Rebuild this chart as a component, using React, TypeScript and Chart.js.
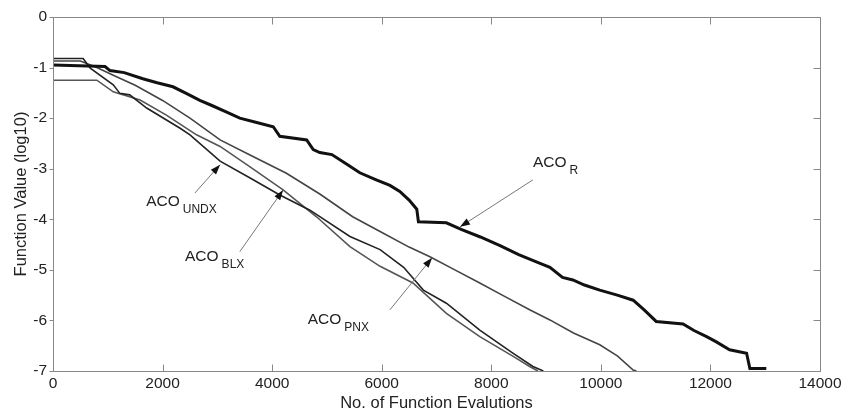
import { useEffect, useRef } from "react";
import { Chart, registerables } from "chart.js";

Chart.register(...registerables);

// ---- Data ----
const xTickValues = [0, 2000, 4000, 6000, 8000, 10000, 12000, 14000];
const xTickLabels = ["0", "2000", "4000", "6000", "8000", "10000", "12000", "14000"];
const yTickValues = [-7, -6, -5, -4, -3, -2, -1, 0];
const yTickLabels = ["-7", "-6", "-5", "-4", "-3", "-2", "-1", "0"];

const seriesNames = ["ACO_R", "ACO_UNDX", "ACO_BLX", "ACO_PNX"];

const acoRX = [0, 950, 1040, 1300, 1640, 1900, 2190, 2450, 2680, 2900, 3170, 3410, 3700, 4020, 4140, 4630, 4750, 4870, 5090, 5350, 5600, 5900, 6150, 6330, 6500, 6640, 6670, 7180, 7450, 7800, 8160, 8500, 8890, 9070, 9300, 9490, 9700, 9980, 10300, 10590, 10800, 11010, 11500, 11700, 11930, 12100, 12350, 12660, 12720, 13020];
const acoRY = [-0.95, -0.98, -1.06, -1.1, -1.22, -1.3, -1.38, -1.52, -1.65, -1.75, -1.88, -2.0, -2.08, -2.17, -2.36, -2.43, -2.62, -2.68, -2.72, -2.9, -3.08, -3.22, -3.33, -3.45, -3.62, -3.8, -4.05, -4.07, -4.2, -4.35, -4.52, -4.7, -4.87, -4.95, -5.15, -5.2, -5.3, -5.4, -5.5, -5.6, -5.8, -6.02, -6.07, -6.2, -6.32, -6.42, -6.58, -6.65, -6.95, -6.95];

const acoUndxX = [0, 550, 680, 1100, 1220, 1400, 1710, 2320, 2500, 3050, 3590, 4140, 4690, 5420, 5970, 6400, 6760, 7180, 7790, 8400, 8760, 8950];
const acoUndxY = [-0.82, -0.82, -1.01, -1.34, -1.51, -1.54, -1.8, -2.2, -2.33, -2.85, -3.18, -3.52, -3.82, -4.34, -4.6, -4.95, -5.4, -5.66, -6.19, -6.65, -6.91, -7.0];

const acoBlxX = [0, 800, 1100, 1590, 2070, 2620, 3050, 3590, 4200, 4810, 5420, 5970, 6570, 7180, 7790, 8400, 8700, 8850];
const acoBlxY = [-1.25, -1.25, -1.48, -1.64, -1.94, -2.33, -2.56, -2.96, -3.42, -3.95, -4.54, -4.93, -5.26, -5.86, -6.32, -6.71, -6.91, -7.0];

const acoPnxX = [0, 500, 800, 1100, 1500, 2000, 2500, 3050, 3650, 4260, 4870, 5470, 5970, 6500, 6880, 7300, 7790, 8200, 8700, 9070, 9500, 9980, 10300, 10590, 10650];
const acoPnxY = [-0.87, -0.87, -1.0, -1.15, -1.35, -1.65, -2.0, -2.43, -2.76, -3.09, -3.5, -3.95, -4.24, -4.55, -4.74, -4.98, -5.26, -5.5, -5.79, -5.99, -6.25, -6.48, -6.7, -6.98, -7.0];

// annotations (data coordinates)
const annotationMain = ["ACO", "ACO", "ACO", "ACO"];
const annotationSub = ["R", "UNDX", "BLX", "PNX"];
const annotationTextX = [8760, 1700, 2410, 4650];
const annotationTextY = [-2.885, -3.66, -4.74, -5.99];
const arrowFromX = [8760, 2590, 3410, 6150];
const arrowFromY = [-3.22, -3.48, -4.64, -5.79];
const arrowToX = [7430, 3050, 4200, 6920];
const arrowToY = [-4.15, -2.92, -3.42, -4.76];

const FONT_FAMILY = "'Liberation Sans', Arial, Helvetica, sans-serif";
const TEXT_COLOR = "#222";
const AXIS_COLOR = "#888";

const toPoints = (xs: number[], ys: number[]) => xs.map((x, i) => ({ x, y: ys[i] }));

const framePlugin = {
  id: "frameAndAnnotations",
  afterDraw(chart: any) {
    const { ctx, chartArea, scales } = chart;
    const { left, right, top, bottom } = chartArea;
    const xs = scales.x;
    const ys = scales.y;
    ctx.save();
    ctx.strokeStyle = AXIS_COLOR;
    ctx.lineWidth = 1;
    const L = Math.round(left) + 0.5;
    const R = Math.round(right) + 0.5;
    const T = Math.round(top) + 0.5;
    const B = Math.round(bottom) + 0.5;
    ctx.beginPath();
    ctx.rect(L, T, R - L, B - T);
    ctx.stroke();
    ctx.beginPath();
    xTickValues.forEach((v) => {
      const px = Math.round(xs.getPixelForValue(v)) + 0.5;
      ctx.moveTo(px, B);
      ctx.lineTo(px, B - 7);
      ctx.moveTo(px, T);
      ctx.lineTo(px, T + 7);
    });
    yTickValues.forEach((v) => {
      const py = Math.round(ys.getPixelForValue(v)) + 0.5;
      ctx.moveTo(L - 4, py);
      ctx.lineTo(L, py);
      ctx.moveTo(R, py);
      ctx.lineTo(R - 7, py);
    });
    ctx.stroke();

    // annotations
    for (let i = 0; i < annotationMain.length; i++) {
      const fx = xs.getPixelForValue(arrowFromX[i]);
      const fy = ys.getPixelForValue(arrowFromY[i]);
      const tx = xs.getPixelForValue(arrowToX[i]);
      const ty = ys.getPixelForValue(arrowToY[i]);
      ctx.strokeStyle = "#777";
      ctx.lineWidth = 1;
      ctx.beginPath();
      ctx.moveTo(fx, fy);
      ctx.lineTo(tx, ty);
      ctx.stroke();
      const ang = Math.atan2(ty - fy, tx - fx);
      const hl = 10;
      const hw = 3.5;
      ctx.fillStyle = "#111";
      ctx.beginPath();
      ctx.moveTo(tx, ty);
      ctx.lineTo(tx - hl * Math.cos(ang) + hw * Math.sin(ang), ty - hl * Math.sin(ang) - hw * Math.cos(ang));
      ctx.lineTo(tx - hl * Math.cos(ang) - hw * Math.sin(ang), ty - hl * Math.sin(ang) + hw * Math.cos(ang));
      ctx.closePath();
      ctx.fill();

      const lx = xs.getPixelForValue(annotationTextX[i]);
      const ly = ys.getPixelForValue(annotationTextY[i]);
      ctx.fillStyle = TEXT_COLOR;
      ctx.textBaseline = "middle";
      ctx.textAlign = "left";
      ctx.font = `15.5px ${FONT_FAMILY}`;
      ctx.fillText(annotationMain[i], lx, ly);
      const w = ctx.measureText(annotationMain[i]).width;
      ctx.font = `12px ${FONT_FAMILY}`;
      ctx.fillText(annotationSub[i], lx + w + 3, ly + 8);
    }
    ctx.restore();
  },
};

export default function App() {
  const ref = useRef<HTMLCanvasElement>(null);
  useEffect(() => {
    const tickFont = { family: FONT_FAMILY, size: 15.5 };
    const titleFont = { family: FONT_FAMILY, size: 16.5 };
    const chart = new Chart(ref.current as HTMLCanvasElement, {
      type: "line",
      data: {
        datasets: [
          {
            label: seriesNames[0],
            data: toPoints(acoRX, acoRY),
            borderColor: "#111",
            borderWidth: 3,
            pointRadius: 0,
            fill: false,
          },
          {
            label: seriesNames[1],
            data: toPoints(acoUndxX, acoUndxY),
            borderColor: "#222",
            borderWidth: 1.6,
            pointRadius: 0,
            fill: false,
          },
          {
            label: seriesNames[2],
            data: toPoints(acoBlxX, acoBlxY),
            borderColor: "#555",
            borderWidth: 1.6,
            pointRadius: 0,
            fill: false,
          },
          {
            label: seriesNames[3],
            data: toPoints(acoPnxX, acoPnxY),
            borderColor: "#444",
            borderWidth: 1.6,
            pointRadius: 0,
            fill: false,
          },
        ],
      } as any,
      options: {
        responsive: false,
        animation: false,
        devicePixelRatio: 1,
        layout: { padding: { left: 0, right: 35, top: 17, bottom: 0 } },
        plugins: { legend: { display: false }, tooltip: { enabled: false } },
        scales: {
          x: {
            type: "linear",
            min: 0,
            max: 14000,
            afterFit: (s: any) => {
              s.height = 46;
            },
            afterBuildTicks: (s: any) => {
              s.ticks = xTickValues.map((v) => ({ value: v }));
            },
            ticks: {
              callback: (v: any) => {
                const i = xTickValues.indexOf(Number(v));
                return i >= 0 ? xTickLabels[i] : "";
              },
              padding: 3,
              font: tickFont,
              color: TEXT_COLOR,
              maxRotation: 0,
              autoSkip: false,
            },
            grid: { display: false, drawTicks: false },
            border: { display: false },
            title: {
              display: true,
              text: "No. of Function Evalutions",
              font: titleFont,
              color: TEXT_COLOR,
              padding: { top: 0, bottom: 3.4 },
            },
          },
          y: {
            type: "linear",
            min: -7,
            max: 0,
            afterFit: (s: any) => {
              s.width = 53;
            },
            afterBuildTicks: (s: any) => {
              s.ticks = yTickValues.map((v) => ({ value: v }));
            },
            ticks: {
              callback: (v: any) => {
                const i = yTickValues.indexOf(Number(v));
                return i >= 0 ? yTickLabels[i] : "";
              },
              padding: 6,
              font: tickFont,
              color: TEXT_COLOR,
              autoSkip: false,
            },
            grid: { display: false, drawTicks: false },
            border: { display: false },
            title: {
              display: true,
              text: "Function Value (log10)",
              font: titleFont,
              color: TEXT_COLOR,
              padding: { top: 11.5, bottom: 0 },
            },
          },
        },
      } as any,
      plugins: [framePlugin],
    });
    return () => chart.destroy();
  }, []);
  return (
    <div style={{ position: "absolute", left: 0, top: 0, width: 855, height: 417, background: "#fff" }}>
      <canvas ref={ref} width={855} height={417} style={{ display: "block" }} />
    </div>
  );
}
